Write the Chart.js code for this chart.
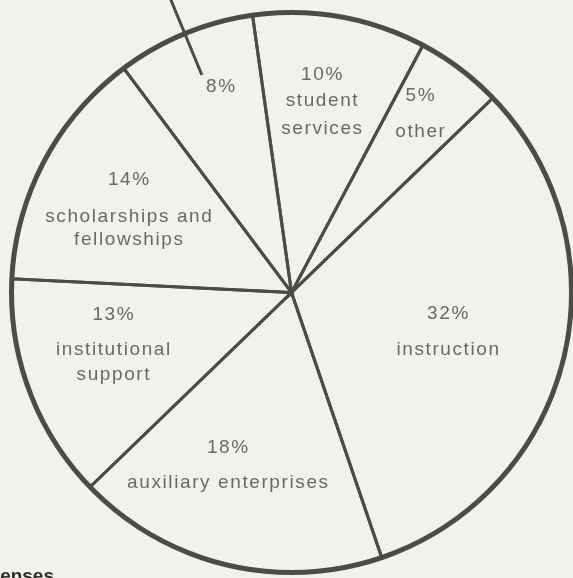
<!DOCTYPE html>
<html lang="en">
<head>
  <meta charset="UTF-8" />
  <title>Expenses pie</title>
  <script src="https://cdn.jsdelivr.net/npm/chart.js"></script>
  <style>
    html, body {
      margin: 0;
      padding: 0;
      background: #f3f1ec;
      overflow: hidden;
    }
    #pie {
      display: block;
    }
  </style>
</head>
<body>
  <canvas id="pie" width="573" height="578"></canvas>
  <script>
    // data, clockwise from the slice just right of 12 o'clock
    const categories = [
      "student services", "other", "instruction", "auxiliary enterprises",
      "institutional support", "scholarships and fellowships", ""
    ];
    const shares = [10, 5, 32, 18, 13, 14, 8];
    // how each name is broken over lines inside its slice
    const nameLines = [
      ["student", "services"],
      ["other"],
      ["instruction"],
      ["auxiliary enterprises"],
      ["institutional", "support"],
      ["scholarships and", "fellowships"],
      []
    ];

    const ink = "#4d4b49";
    const textInk = "#6b6967";

    // where each text block sits: fraction of the slice angle, fraction of radius,
    // then the vertical offset (px) of every line from that point
    const spots = [
      { f: 0.47, rho: 0.69, dy: [-27, -1, 27] },
      { f: 0.43, rho: 0.785, dy: [-18, 18] },
      { f: 0.506, rho: 0.575, dy: [-18, 18] },
      { f: 0.605, rho: 0.657, dy: [-17.5, 17.5] },
      { f: 0.59, rho: 0.665, dy: [-30, 5, 30] },
      { f: 0.48, rho: 0.654, dy: [-30, 7, 30] },
      { f: 0.615, rho: 0.776, dy: [0] }
    ];

    const pieText = {
      id: "pieText",
      afterDatasetsDraw(chart) {
        const ctx = chart.ctx;
        const arcs = chart.getDatasetMeta(0).data;
        ctx.save();

        // heavier outer rim
        const a0 = arcs[0];
        ctx.beginPath();
        ctx.arc(a0.x, a0.y, a0.outerRadius, 0, Math.PI * 2);
        ctx.lineWidth = 5;
        ctx.strokeStyle = ink;
        ctx.stroke();

        // leader line out of the small unnamed slice
        const last = arcs[arcs.length - 1];
        const mid = (last.startAngle + last.endAngle) / 2;
        ctx.beginPath();
        ctx.moveTo(last.x + Math.cos(mid) * last.outerRadius * 0.84, last.y + Math.sin(mid) * last.outerRadius * 0.84);
        ctx.lineTo(last.x + Math.cos(mid) * last.outerRadius * 1.4, last.y + Math.sin(mid) * last.outerRadius * 1.4);
        ctx.lineWidth = 3;
        ctx.stroke();

        // labels
        ctx.fillStyle = textInk;
        ctx.font = "19px 'Liberation Sans', Arial, sans-serif";
        ctx.letterSpacing = "1.6px";
        ctx.textAlign = "center";
        ctx.textBaseline = "middle";
        arcs.forEach((arc, i) => {
          const s = spots[i];
          const ang = arc.startAngle + s.f * (arc.endAngle - arc.startAngle);
          const cx = arc.x + Math.cos(ang) * arc.outerRadius * s.rho;
          const cy = arc.y + Math.sin(ang) * arc.outerRadius * s.rho;
          const lines = [shares[i] + "%"].concat(nameLines[i]);
          lines.forEach((txt, j) => ctx.fillText(txt, cx + 1, cy + s.dy[j]));
        });

        // cut-off caption at the bottom left
        ctx.letterSpacing = "0px";
        ctx.fillStyle = "#2f2e2c";
        ctx.font = "bold 19px 'Liberation Sans', Arial, sans-serif";
        ctx.textAlign = "right";
        ctx.textBaseline = "alphabetic";
        ctx.fillText("expenses", 54, 582);
        ctx.restore();
      }
    };

    new Chart(document.getElementById("pie"), {
      type: "pie",
      data: {
        labels: categories,
        datasets: [{
          data: shares,
          backgroundColor: "rgba(0,0,0,0)",
          borderColor: ink,
          borderWidth: 3,
          borderJoinStyle: "miter"
        }]
      },
      options: {
        responsive: false,
        animation: false,
        rotation: -8,
        layout: { padding: { left: 10, right: 0, top: 11, bottom: 4 } },
        plugins: {
          legend: { display: false },
          tooltip: { enabled: false }
        }
      },
      plugins: [pieText]
    });
  </script>
</body>
</html>
